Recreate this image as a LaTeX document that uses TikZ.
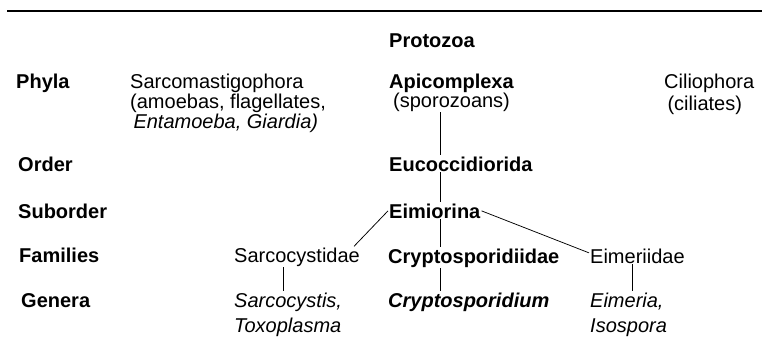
\documentclass[tikz,border=0pt]{standalone}
\usepackage{fontspec}
\setmainfont{Liberation Sans}
\usetikzlibrary{positioning}
\newcommand{\taxfont}{\fontsize{20}{20}\selectfont}
\tikzset{
  rank/.style={anchor=base west,inner sep=1pt,font=\taxfont\bfseries},
  taxon/.style={anchor=base west,inner sep=1pt,align=left,font=\taxfont},
  keytaxon/.style={taxon,font=\taxfont\bfseries},
  genus/.style={taxon,font=\fontsize{20}{25}\selectfont\itshape},
  link/.style={draw=black,line width=.75pt},
  toprule/.style={draw=black,line width=1.6pt}
}
\begin{document}
\begin{tikzpicture}[x=1pt,y=-1pt]
        \useasboundingbox (0,0) rectangle (762,341);
        \draw[toprule] (7,11) -- (762,11);

        % ranks on the left
        \node[rank] (phyla) at (15,88) {Phyla};
        \node[rank] (order) at (17,171) {Order};
        \node[rank] (subord) at (17,218) {Suborder};
        \node[rank] (fams) at (18,262) {Families};
        \node[rank] (gen) at (20,307) {Genera};

        % the tree (multi-line nodes sit on their last baseline)
        \node[keytaxon] (proto) at (388,47) {Protozoa};
        \node[taxon] (sarcm) at (129,128) {Sarcomastigophora\\(amoebas, flagellates,\\\textit{\,Entamoeba, Giardia)}};
        \node[keytaxon] (api) at (388,88) {Apicomplexa};
        \node[taxon] (spz) at (392,107) {(sporozoans)};
        \node[taxon,font=\fontsize{20}{22}\selectfont] (cil) at (663,110) {Ciliophora\\\,(ciliates)};
        \node[keytaxon] (euc) at (388,171) {Eucoccidiorida};
        \node[keytaxon] (eim) at (388,218) {Eimiorina};
        \node[taxon] (sarcf) at (233,262) {Sarcocystidae};
        \node[keytaxon] (cryf) at (387,263) {Cryptosporidiidae};
        \node[taxon] (eimf) at (589,263) {Eimeriidae};
        \node[genus] (sarcg) at (233,332) {Sarcocystis,\\Toxoplasma};
        \node[keytaxon,font=\taxfont\bfseries\itshape] (cryg) at (387,307) {Cryptosporidium};
        \node[genus] (eimg) at (589,332) {Eimeria,\\Isospora};

        \coordinate (stem) at (440,0);
        \draw[link] (spz.south-|stem) -- (euc.north-|stem);
        \draw[link] (euc.south-|stem) -- (eim.north-|stem);
        \draw[link] (eim.south-|stem) -- (cryf.north-|stem);
        \draw[link] (cryf.south-|stem) -- (cryg.north-|stem);
        \draw[link] (eim.west) -- ([xshift=-7pt]sarcf.north east);
        \draw[link] (eim.east) -- ([yshift=3pt]eimf.west);
        \draw[link] ([xshift=50pt]sarcf.south west) -- ([xshift=50pt]sarcg.north west);
        \draw[link] ([xshift=43pt]eimf.south west) -- ([xshift=43pt]eimg.north west);
      \end{tikzpicture}
\end{document}
